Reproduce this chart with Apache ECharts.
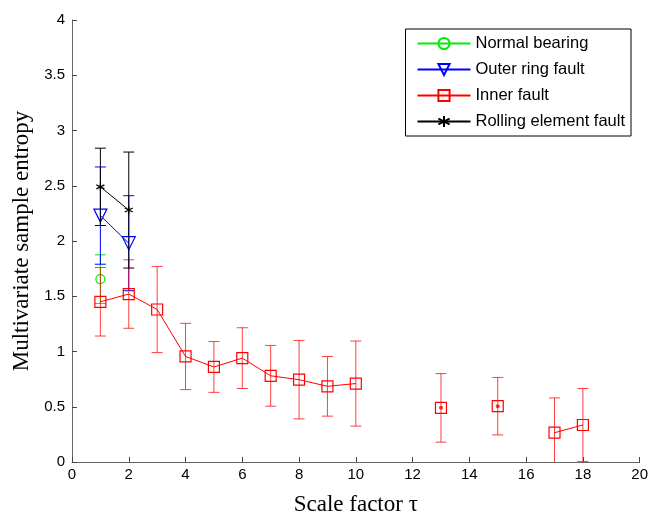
<!DOCTYPE html>
<html>
<head>
<meta charset="utf-8">
<script src="https://cdn.jsdelivr.net/npm/echarts@6/dist/echarts.min.js"></script>
<style>
html,body{margin:0;padding:0;background:#fff;}
#chart{width:651px;height:521px;}
</style>
</head>
<body>
<div id="chart"></div>
<script>
// Scale factors and multivariate sample entropy (mean and error half-width)
const scales = [1,2,3,4,5,6,7,8,9,10,11,12,13,14,15,16,17,18];

const normalMean = [1.655];
const normalErr  = [0.22];

const outerMean = [2.23, 1.98];
const outerErr  = [0.44, 0.43];

const innerMean = [1.45, 1.52, 1.38, 0.955, 0.86, 0.94, 0.78, 0.745, 0.685, 0.71, null, null, 0.49, null, 0.505, null, 0.265, 0.335];
const innerErr  = [0.31, 0.31, 0.39, 0.30, 0.23, 0.275, 0.275, 0.355, 0.27, 0.385, null, null, 0.31, null, 0.26, null, 0.315, 0.33];

const rollingMean = [2.49, 2.28];
const rollingErr  = [0.35, 0.525];

const xTicks = [0, 2, 4, 6, 8, 10, 12, 14, 16, 18, 20];
const yTicks = [0, 0.5, 1, 1.5, 2, 2.5, 3, 3.5, 4];

const STAR = 'path://M0,-1L0,1M-0.87,-0.5L0.87,0.5M-0.87,0.5L0.87,-0.5';
const seriesDefs = [
  {name: 'Normal bearing', mean: normalMean, err: normalErr, color: '#00ee00', symbol: 'circle', size: 9},
  {name: 'Outer ring fault', mean: outerMean, err: outerErr, color: '#0000ff', symbol: 'path://M-1,-0.9L1,-0.9L0,0.9Z', size: 13},
  {name: 'Inner fault', mean: innerMean, err: innerErr, color: '#ff0000', symbol: 'rect', size: 11},
  {name: 'Rolling element fault', mean: rollingMean, err: rollingErr, color: '#000000', symbol: STAR, size: 8}
];

function lineData(mean) {
  return mean.map((v, i) => [scales[i], v == null ? '-' : v]);
}
function errData(mean, err) {
  const out = [];
  mean.forEach((v, i) => { if (v != null) out.push([scales[i], v - err[i], v + err[i]]); });
  return out;
}

// Vertical error bar with caps; the lower end stops at the x axis
function errorRender(color, opacity) {
  return function (params, api) {
    const x = api.value(0);
    const lowV = api.value(1), highV = api.value(2);
    const hi = api.coord([x, highV]);
    const lo = api.coord([x, Math.max(lowV, 0)]);
    const half = 5.5;
    const style = {stroke: color, lineWidth: 1, opacity: opacity};
    const children = [
      {type: 'line', shape: {x1: hi[0], y1: hi[1], x2: lo[0], y2: lo[1]}, style: style},
      {type: 'line', shape: {x1: hi[0] - half, y1: hi[1], x2: hi[0] + half, y2: hi[1]}, style: style}
    ];
    if (lowV >= 0) {
      children.push({type: 'line', shape: {x1: lo[0] - half, y1: lo[1], x2: lo[0] + half, y2: lo[1]}, style: style});
    }
    return {type: 'group', children: children};
  };
}

const series = [];
seriesDefs.forEach((d, k) => {
  series.push({
    name: d.name,
    type: 'line',
    color: d.color,
    z: 3 + k * 2,
    data: lineData(d.mean),
    connectNulls: false,
    symbol: d.symbol,
    symbolSize: d.size,
    showSymbol: true,
    lineStyle: {color: d.color, width: 1},
    itemStyle: {color: d.symbol === STAR ? d.color : 'rgba(255,255,255,0)', borderColor: d.color, borderWidth: 1.2},
    animation: false
  });
  series.push({
    type: 'custom',
    z: 2 + k * 2,
    renderItem: errorRender(d.color, d.color === '#ff0000' ? 0.75 : 1),
    data: errData(d.mean, d.err),
    encode: {x: 0, y: [1, 2]},
    silent: true
  });
});

// Isolated scale factors (no connected neighbours) carry a centre dot
const isolated = [];
innerMean.forEach((v, i) => {
  const prev = i > 0 ? innerMean[i - 1] : null;
  const next = i < innerMean.length - 1 ? innerMean[i + 1] : null;
  if (v != null && prev == null && next == null) isolated.push([scales[i], v]);
});
series.push({
  type: 'scatter', data: isolated, symbol: 'circle', symbolSize: 4, z: 9,
  itemStyle: {color: '#ff0000'}, silent: true, animation: false
});

const axisFont = {fontFamily: 'Liberation Sans, Arial, sans-serif', fontSize: 15, color: '#000'};
const titleFont = {fontFamily: 'Liberation Serif, Times New Roman, serif', fontSize: 23, color: '#000'};

const chart = echarts.init(document.getElementById('chart'), null, {renderer: 'canvas'});
chart.setOption({
  animation: false,
  backgroundColor: '#fff',
  grid: {left: 72, right: 8, top: 20, bottom: 53, containLabel: false},
  legend: {
    data: seriesDefs.map(d => d.name),
    orient: 'vertical',
    right: 20, top: 29,
    backgroundColor: '#fff',
    borderColor: '#000', borderWidth: 1, borderRadius: 0,
    padding: [6, 6, 6, 11],
    itemWidth: 53, itemHeight: 14, itemGap: 9,
    textStyle: {fontFamily: 'Liberation Sans, Arial, sans-serif', fontSize: 16.5, color: '#000'}
  },
  xAxis: {
    type: 'value', min: xTicks[0], max: xTicks[xTicks.length - 1], interval: 2,
    name: 'Scale factor τ', nameLocation: 'middle', nameGap: 31, nameTextStyle: titleFont,
    axisLine: {show: true, lineStyle: {color: '#666', width: 1}},
    axisTick: {show: true, inside: true, length: 5, lineStyle: {color: '#444'}},
    axisLabel: Object.assign({margin: 5}, axisFont),
    splitLine: {show: false}
  },
  yAxis: {
    type: 'value', min: yTicks[0], max: yTicks[yTicks.length - 1], interval: 0.5,
    name: 'Multivariate sample entropy', nameLocation: 'middle', nameGap: 34, nameTextStyle: titleFont,
    axisLine: {show: true, lineStyle: {color: '#666', width: 1}},
    axisTick: {show: true, inside: true, length: 5, lineStyle: {color: '#444'}},
    axisLabel: Object.assign({margin: 7, formatter: v => String(v)}, axisFont),
    splitLine: {show: false}
  },
  series: series
});
</script>
</body>
</html>
